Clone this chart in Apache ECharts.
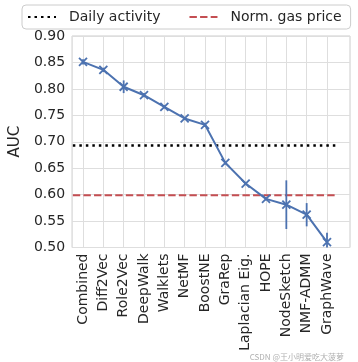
<!DOCTYPE html>
<html><head><meta charset="utf-8">
<script src="https://cdn.jsdelivr.net/npm/echarts@6/dist/echarts.min.js"></script>
<style>html,body{margin:0;padding:0;background:#fff}#c{width:358px;height:362px}</style>
</head><body><div id="c"></div>
<script>
const categories = ['Combined','Diff2Vec','Role2Vec','DeepWalk','Walklets','NetMF','BoostNE','GraRep','Laplacian Eig.','HOPE','NodeSketch','NMF-ADMM','GraphWave'];
const auc = [0.851, 0.836, 0.804, 0.788, 0.766, 0.744, 0.732, 0.660, 0.621, 0.592, 0.581, 0.562, 0.510];
const aucErr = [0.005, 0.004, 0.012, 0.004, 0.003, 0.003, 0.004, 0.003, 0.003, 0.003, 0.046, 0.022, 0.018];
const dailyActivity = 0.693;
const gasPrice = 0.599;
const yTicks = [0.50, 0.55, 0.60, 0.65, 0.70, 0.75, 0.80, 0.85, 0.90];

const FONT = 'DejaVu Sans';
const TXT = '#262626';
const GRIDC = '#dedede';
const BLUE = '#4c72b0';
const RED = '#c44e52';
const n = categories.length;

const dailyStyle = {color: '#000', width: 2.5, type: [2.5, 4], cap: 'butt'};
const gasStyle = {color: RED, width: 2, type: [7.4, 3.2], cap: 'butt'};

function refLine(value, ls) {
  return {
    type: 'custom', xAxisIndex: 1, yAxisIndex: 1, z: 3, clip: false, silent: true,
    data: [[0, value]],
    renderItem: function (params, api) {
      const a = api.coord([0, api.value(1)]);
      const b = api.coord([n - 1, api.value(1)]);
      const half = (b[0] - a[0]) / (n - 1) / 2;
      return {type: 'line', shape: {x1: a[0] - half, y1: a[1], x2: b[0] + half, y2: b[1]},
        style: {stroke: ls.color, lineWidth: ls.width, lineDash: ls.type, lineCap: 'butt', fill: null}};
    }
  };
}

const chart = echarts.init(document.getElementById('c'), null, {renderer: 'canvas'});
const G = {top: 36, bottom: 114.5};
chart.setOption({
  animation: false,
  textStyle: {fontFamily: FONT},
  legend: {
    data: ['Daily activity', 'Norm. gas price'],
    left: 22, top: 5,
    padding: [5, 9, 5, 5],
    itemWidth: 28, itemHeight: 14, itemGap: 28,
    itemStyle: {opacity: 0},
    backgroundColor: '#fff', borderColor: '#cccccc', borderWidth: 1, borderRadius: 4,
    textStyle: {fontFamily: FONT, fontSize: 14, color: TXT, padding: [0, 0, 0, 8]}
  },
  grid: [
    {left: 60, right: 8, top: G.top, bottom: G.bottom, show: true, borderColor: '#cccccc', borderWidth: 1, backgroundColor: '#fff'},
    {left: 83, right: 31, top: G.top, bottom: G.bottom, show: false}
  ],
  xAxis: [
    {gridIndex: 0, type: 'value', min: 0, max: 1, show: false, splitLine: {show: false}},
    {gridIndex: 1, type: 'category', data: categories, boundaryGap: false,
      axisLine: {show: false}, axisTick: {show: false},
      axisLabel: {rotate: 90, fontSize: 14, color: TXT, fontFamily: FONT, margin: 6, interval: 0},
      splitLine: {show: true, interval: 0, lineStyle: {color: GRIDC, width: 1}}}
  ],
  yAxis: [
    {gridIndex: 0, type: 'value', min: yTicks[0], max: yTicks[yTicks.length - 1], interval: 0.05,
      axisLine: {show: false}, axisTick: {show: false},
      axisLabel: {fontSize: 14, color: TXT, fontFamily: FONT, margin: 7, formatter: v => v.toFixed(2)},
      splitLine: {show: true, lineStyle: {color: GRIDC, width: 1}},
      name: 'AUC', nameLocation: 'middle', nameGap: 41,
      nameTextStyle: {fontSize: 15, color: TXT, fontFamily: FONT}},
    {gridIndex: 1, type: 'value', min: yTicks[0], max: yTicks[yTicks.length - 1], show: false, splitLine: {show: false}}
  ],
  series: [
    {name: 'Daily activity', type: 'line', xAxisIndex: 1, yAxisIndex: 1, symbol: 'none', data: [],
      itemStyle: {color: '#000'}, lineStyle: dailyStyle},
    {name: 'Norm. gas price', type: 'line', xAxisIndex: 1, yAxisIndex: 1, symbol: 'none', data: [],
      itemStyle: {color: RED}, lineStyle: gasStyle},
    refLine(dailyActivity, dailyStyle),
    refLine(gasPrice, gasStyle),
    {name: 'AUC', type: 'line', xAxisIndex: 1, yAxisIndex: 1, symbol: 'none', z: 4,
      data: auc, lineStyle: {color: BLUE, width: 2}, itemStyle: {color: BLUE}},
    {name: 'err', type: 'custom', xAxisIndex: 1, yAxisIndex: 1, z: 5, clip: false,
      data: auc.map((v, i) => [i, v, v - aucErr[i], v + aucErr[i]]),
      renderItem: function (params, api) {
        const cs = params.coordSys;
        const bottom = cs.y + cs.height, top = cs.y;
        const c = api.coord([api.value(0), api.value(1)]);
        const lo = api.coord([api.value(0), api.value(2)]);
        const hi = api.coord([api.value(0), api.value(3)]);
        const yLo = Math.min(lo[1], bottom), yHi = Math.max(hi[1], top);
        const s = 4;
        const st = {stroke: BLUE, lineWidth: 1.8};
        return {type: 'group', children: [
          {type: 'line', shape: {x1: lo[0], y1: yLo, x2: hi[0], y2: yHi}, style: st},
          {type: 'line', shape: {x1: c[0] - s, y1: c[1] - s, x2: c[0] + s, y2: c[1] + s}, style: st},
          {type: 'line', shape: {x1: c[0] - s, y1: c[1] + s, x2: c[0] + s, y2: c[1] - s}, style: st}
        ]};
      }}
  ],
  graphic: [
    {type: 'text', right: 14, bottom: 1, style: {text: 'CSDN @王小明爱吃大菠萝', fontSize: 8, fill: '#b0b0b0', fontFamily: '"Noto Sans CJK SC", "DejaVu Sans"'}}
  ]
});
</script></body></html>
